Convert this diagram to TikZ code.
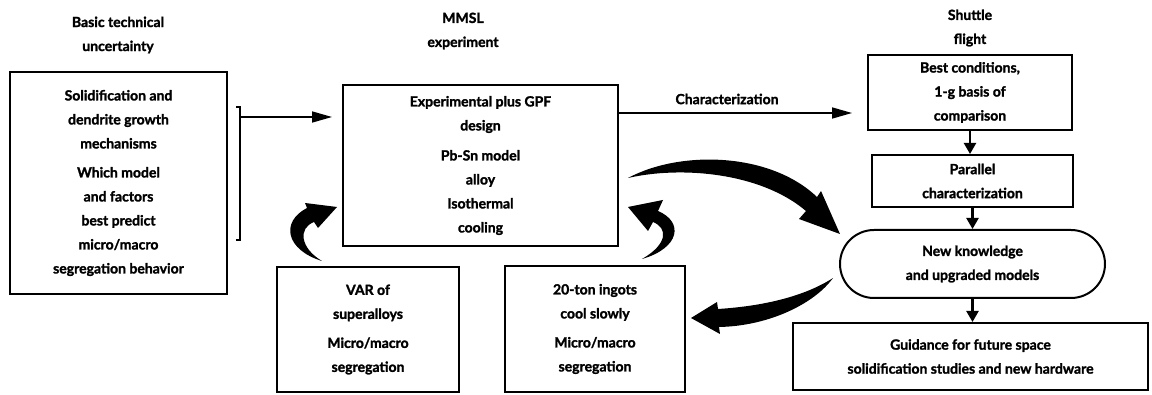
\documentclass[tikz,border=0pt]{standalone}
\usepackage{fontspec}
\setmainfont{Lato}[BoldFeatures={FakeBold=1.6}]
\usetikzlibrary{arrows.meta}
\begin{document}
\begin{tikzpicture}[x=1pt,y=-1pt,
  txt/.style={font=\bfseries\fontsize{14}{24}\selectfont, align=center, inner sep=0pt},
  box/.style={txt, draw, line width=2pt, rectangle},
  pillbox/.style={box, rounded corners=34pt},
  conn/.style={line width=1.6pt, -{Triangle[length=20pt,width=11pt]}},
  darrow/.style={line width=2.2pt, -{Triangle[length=11pt,width=12pt]}},
  fatarrow/.style={fill=black}
]
\useasboundingbox (0,0) rectangle (1152,395);

% titles
\node[txt] (t1) at (118,35) {Basic technical\\uncertainty};
\node[txt] (t2) at (463,31) {MMSL\\experiment};
\node[txt] (t3) at (970,28) {Shuttle\\flight};

% boxes
\node[box, minimum width=217pt, minimum height=222pt] (lb) at (118.5,183)
  {Solidification and\\dendrite growth\\mechanisms\\[5pt]Which model\\and factors\\best predict\\micro/macro\\segregation behavior};
\node[box, minimum width=275pt, minimum height=161pt] (mm) at (480.5,165.5)
  {Experimental plus GPF\\design\\[6pt]Pb-Sn model\\alloy\\Isothermal\\cooling};
\node[box, minimum width=204pt, minimum height=75pt] (b1) at (970,92.5)
  {Best conditions,\\1-g basis of\\comparison};
\node[box, minimum width=201pt, minimum height=52pt] (b2) at (972.5,181)
  {Parallel\\characterization};
\node[pillbox, minimum width=265pt, minimum height=68pt] (pl) at (972.5,264)
  {New knowledge\\and upgraded models};
\node[box, minimum width=355pt, minimum height=67pt] (gd) at (970.5,356.5)
  {Guidance for future space\\solidification studies and new hardware};
\node[box, minimum width=182pt, minimum height=125pt] (var) at (368,329.5)
  {VAR of\\superalloys\\[5pt]Micro/macro\\segregation};
\node[box, minimum width=180pt, minimum height=126pt] (ing) at (595,329)
  {20-ton ingots\\cool slowly\\[5pt]Micro/macro\\segregation};

% bracket and arrow to MMSL
\coordinate (bk1) at (240,107);
\coordinate (bk2) at (240,240);
\coordinate (bka) at (240,117);
\draw[line width=1.8pt] ([xshift=-4pt]bk1) -- (bk1) -- (bk2) -- ([xshift=-4pt]bk2);
\draw[conn] (bka) -- ([xshift=-10pt]mm.west |- bka);

% characterization
\node[txt] (ch) at (727,99) {Characterization};
\coordinate (cy) at (0,113);
\draw[conn] (mm.east |- cy) -- ([xshift=-15pt]b1.west |- cy);

% right column arrows
\draw[darrow] (b1.south) -- (b1.south |- b2.north);
\draw[darrow] (b2.south) -- (b2.south |- pl.north);
\draw[darrow] (pl.south) -- (pl.south |- gd.north);

% fat curved arrows
\fill[fatarrow] (305,203) -- (337,207) -- (318,228) -- (314,222)
  .. controls (298,228) and (300,248) .. (322,261)
  .. controls (286,250) and (280,222) .. (307,208) -- cycle;
\fill[fatarrow] (628,207) -- (663,200) -- (658,211)
  .. controls (684,222) and (680,248) .. (642,259)
  .. controls (668,244) and (668,228) .. (653,222) -- (648,231) -- cycle;
\fill[fatarrow] (628,178) .. controls (680,150) and (770,152) .. (817,197)
  -- (821,191) -- (840,234) -- (799,219) -- (806,211)
  .. controls (760,172) and (680,166) .. (628,178) -- cycle;
\fill[fatarrow] (833,278) .. controls (815,303) and (770,326) .. (719,327)
  -- (720,334) -- (691,318) -- (717,302) -- (718,309)
  .. controls (765,306) and (805,296) .. (833,278) -- cycle;
\end{tikzpicture}
\end{document}
